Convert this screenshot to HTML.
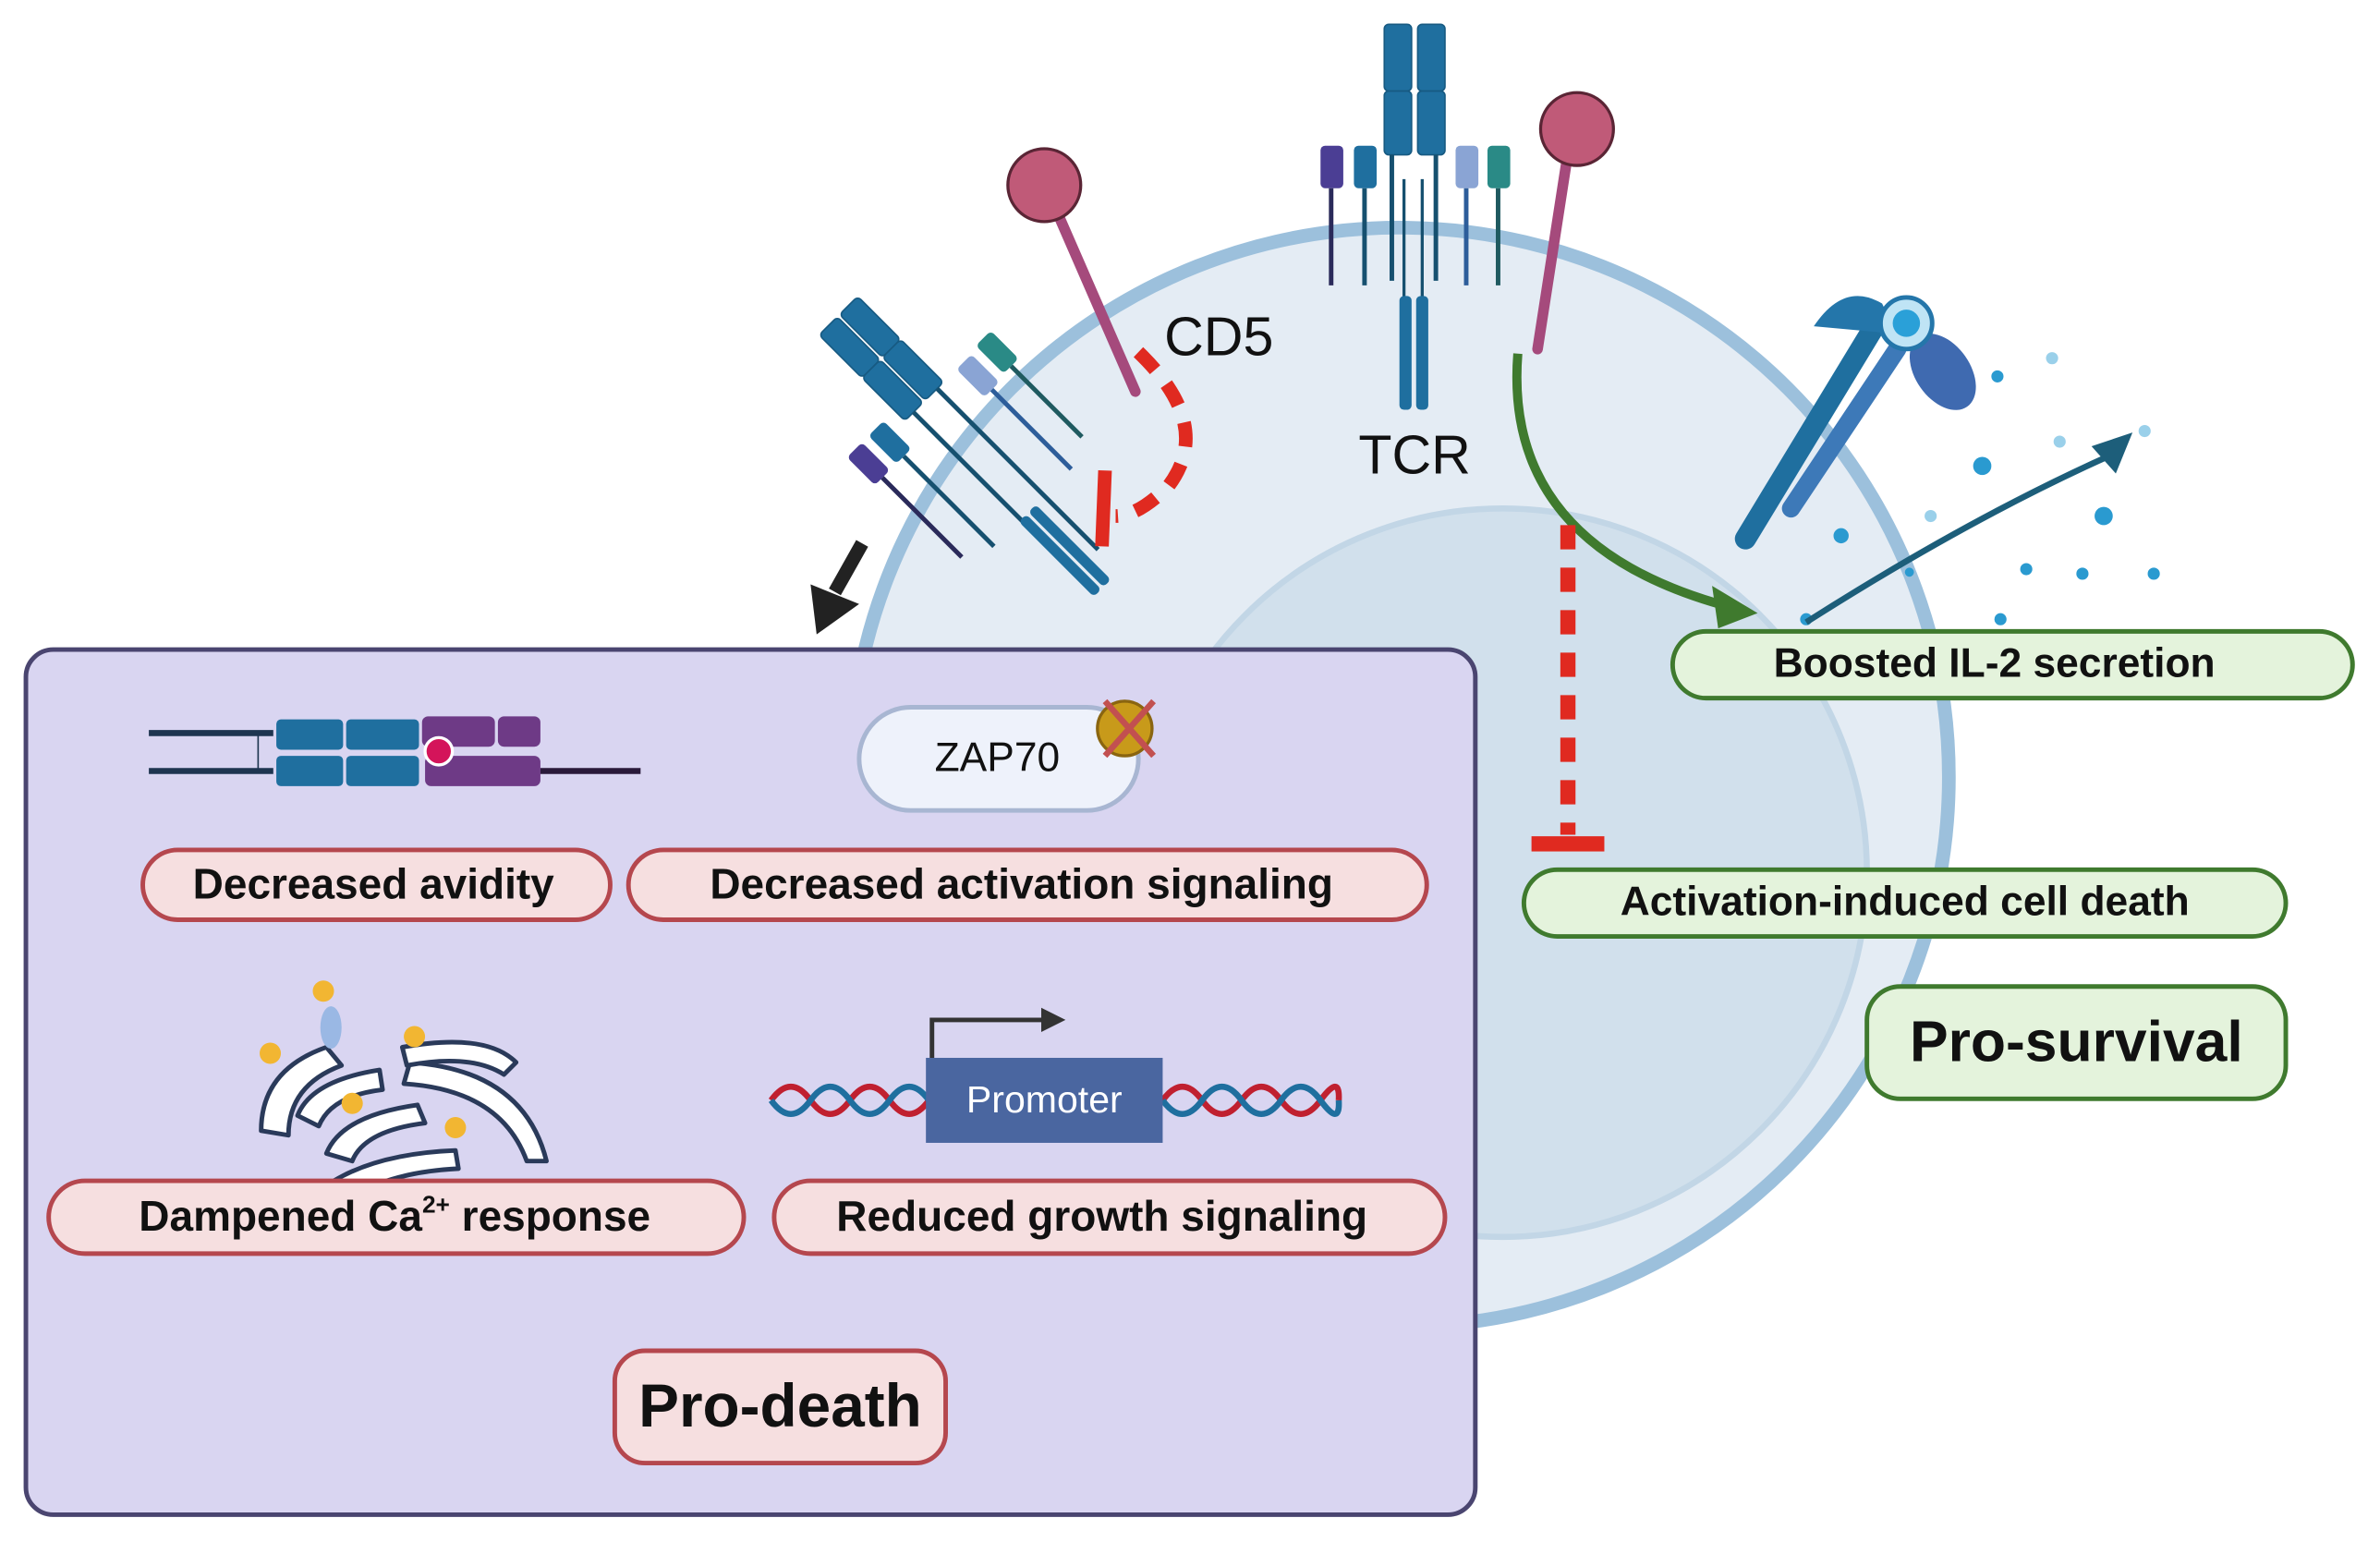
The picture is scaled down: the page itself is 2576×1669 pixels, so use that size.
<!DOCTYPE html>
<html><head><meta charset="utf-8"><style>
html,body{margin:0;padding:0;background:#fff;}
svg{display:block;}
text{font-family:"Liberation Sans",sans-serif;}
</style></head><body>
<svg width="2576" height="1669" viewBox="0 0 1568 1016" xmlns="http://www.w3.org/2000/svg">
<rect width="1568" height="1016" fill="#fff"/>
<!-- cell -->
<circle cx="922" cy="512" r="362" fill="#e4ecf4" stroke="#9cc0dc" stroke-width="9"/>
<circle cx="990" cy="575" r="240" fill="#d1e0ec" stroke="#c2d6e6" stroke-width="4"/>

<!-- TCR top -->
<g>
<rect x="912" y="16" width="18" height="44" rx="3" fill="#1f6f9f" stroke="#175a82"/>
<rect x="934" y="16" width="18" height="44" rx="3" fill="#1f6f9f" stroke="#175a82"/>
<rect x="912" y="60" width="18" height="42" rx="3" fill="#1f6f9f" stroke="#175a82"/>
<rect x="934" y="60" width="18" height="42" rx="3" fill="#1f6f9f" stroke="#175a82"/>
<line x1="917" y1="102" x2="917" y2="185" stroke="#16506f" stroke-width="3"/>
<line x1="946" y1="102" x2="946" y2="185" stroke="#16506f" stroke-width="3"/>
<line x1="925" y1="118" x2="925" y2="198" stroke="#16506f" stroke-width="2"/>
<line x1="937" y1="118" x2="937" y2="198" stroke="#16506f" stroke-width="2"/>
<rect x="922" y="195" width="8" height="75" rx="3" fill="#1f6f9f"/>
<rect x="933" y="195" width="8" height="75" rx="3" fill="#1f6f9f"/>
<rect x="870" y="96" width="15" height="28" rx="3" fill="#4b3e94"/>
<rect x="892" y="96" width="15" height="28" rx="3" fill="#1f6f9f"/>
<rect x="959" y="96" width="15" height="28" rx="3" fill="#8aa4d4"/>
<rect x="980" y="96" width="15" height="28" rx="3" fill="#2a8a86"/>
<line x1="877" y1="124" x2="877" y2="188" stroke="#2a2a5a" stroke-width="3"/>
<line x1="899" y1="124" x2="899" y2="188" stroke="#16506f" stroke-width="3"/>
<line x1="966" y1="124" x2="966" y2="188" stroke="#2d5d9a" stroke-width="3"/>
<line x1="987" y1="124" x2="987" y2="188" stroke="#1f5a60" stroke-width="3"/>
</g>
<text x="932" y="312" font-size="36" text-anchor="middle" fill="#111">TCR</text>
<text x="803" y="234" font-size="36" text-anchor="middle" fill="#111">CD5</text>

<!-- tilted TCR -->
<g transform="translate(640,290) rotate(45)">
<rect x="-120" y="-14" width="40" height="17" rx="3" fill="#1f6f9f" stroke="#175a82"/>
<rect x="-120" y="5" width="40" height="17" rx="3" fill="#1f6f9f" stroke="#175a82"/>
<rect x="-80" y="-14" width="40" height="17" rx="3" fill="#1f6f9f" stroke="#175a82"/>
<rect x="-80" y="5" width="40" height="17" rx="3" fill="#1f6f9f" stroke="#175a82"/>
<line x1="-40" y1="-8" x2="110" y2="-8" stroke="#16506f" stroke-width="3"/>
<line x1="-40" y1="14" x2="110" y2="14" stroke="#16506f" stroke-width="3"/>
<rect x="60" y="0" width="70" height="7" rx="3" fill="#1f6f9f"/>
<rect x="60" y="9" width="70" height="7" rx="3" fill="#1f6f9f"/>
<rect x="-40" y="-40" width="26" height="14" rx="3" fill="#8aa4d4"/>
<rect x="-42" y="-60" width="26" height="14" rx="3" fill="#2a8a86"/>
<line x1="-14" y1="-33" x2="60" y2="-33" stroke="#2d5d9a" stroke-width="3"/>
<line x1="-16" y1="-53" x2="50" y2="-53" stroke="#1f5a60" stroke-width="3"/>
<rect x="-50" y="32" width="26" height="14" rx="3" fill="#1f6f9f"/>
<rect x="-50" y="52" width="26" height="14" rx="3" fill="#4b3e94"/>
<line x1="-24" y1="39" x2="60" y2="39" stroke="#16506f" stroke-width="3"/>
<line x1="-24" y1="59" x2="50" y2="59" stroke="#2a2a5a" stroke-width="3"/>
</g>

<!-- CD5 lollipops -->
<line x1="690" y1="125" x2="748" y2="258" stroke="#a54a7c" stroke-width="7" stroke-linecap="round"/>
<circle cx="688" cy="122" r="24" fill="#c05a78" stroke="#5a2535" stroke-width="2"/>
<line x1="1035" y1="88" x2="1013" y2="230" stroke="#a54a7c" stroke-width="7" stroke-linecap="round"/>
<circle cx="1039" cy="85" r="24" fill="#c05a78" stroke="#5a2535" stroke-width="2"/>

<!-- red dashed inhibit (CD5) -->
<path d="M750 232 Q800 280 770 320 Q750 340 735 340" fill="none" stroke="#e02a20" stroke-width="9" stroke-dasharray="16,12"/>
<line x1="728" y1="310" x2="726" y2="360" stroke="#e02a20" stroke-width="9"/>

<!-- green arrow -->
<path d="M1000 233 Q990 360 1140 400" fill="none" stroke="#3f7a2e" stroke-width="6"/>
<polygon points="1158,404 1128,386 1132,414" fill="#3f7a2e"/>
<!-- red vertical inhibit -->
<line x1="1033" y1="346" x2="1033" y2="550" stroke="#e02a20" stroke-width="10" stroke-dasharray="16,12"/>
<rect x="1009" y="551" width="48" height="10" fill="#e02a20"/>

<!-- IL-2 receptor -->
<line x1="1235" y1="215" x2="1150" y2="355" stroke="#1f6f9f" stroke-width="14" stroke-linecap="round"/>
<line x1="1250" y1="230" x2="1180" y2="335" stroke="#3d79b8" stroke-width="12" stroke-linecap="round"/>
<path d="M1195 215 Q1215 185 1240 200 L1250 220 Z" fill="#2476aa"/>
<ellipse cx="1280" cy="245" rx="18" ry="28" transform="rotate(-35 1280 245)" fill="#3f6ab0"/>
<circle cx="1256" cy="213" r="17" fill="#bfe4f5" stroke="#2476aa" stroke-width="3"/>
<circle cx="1256" cy="213" r="9" fill="#2aa0d8"/>
<!-- dots -->
<g fill="#2a9ad0">
<circle cx="1316" cy="248" r="4"/><circle cx="1352" cy="236" r="4" fill="#9ad0ea"/><circle cx="1306" cy="307" r="6"/>
<circle cx="1357" cy="291" r="4" fill="#9ad0ea"/><circle cx="1413" cy="284" r="4" fill="#9ad0ea"/><circle cx="1386" cy="340" r="6"/>
<circle cx="1272" cy="340" r="4" fill="#9ad0ea"/><circle cx="1213" cy="353" r="5"/><circle cx="1335" cy="375" r="4"/>
<circle cx="1372" cy="378" r="4"/><circle cx="1419" cy="378" r="4"/><circle cx="1258" cy="377" r="3"/>
<circle cx="1190" cy="408" r="4"/><circle cx="1318" cy="408" r="4"/>
</g>
<path d="M1190 410 Q1300 340 1395 298" fill="none" stroke="#1d5e7a" stroke-width="4"/>
<polygon points="1405,285 1378,294 1394,312" fill="#1d5e7a"/>

<!-- black arrow -->
<line x1="568" y1="358" x2="550" y2="390" stroke="#222" stroke-width="9"/>
<polygon points="538,418 534,385 566,398" fill="#222"/>

<!-- green labels -->
<rect x="1102" y="416" width="448" height="44" rx="22" fill="#e4f3dc" stroke="#3f7a2e" stroke-width="3"/>
<text x="1314" y="446" font-size="27" font-weight="bold" text-anchor="middle" fill="#111">Boosted IL-2 secretion</text>
<rect x="1004" y="573" width="502" height="44" rx="22" fill="#e4f3dc" stroke="#3f7a2e" stroke-width="3"/>
<text x="1255" y="603" font-size="27" font-weight="bold" text-anchor="middle" fill="#111">Activation-induced cell death</text>
<rect x="1230" y="650" width="276" height="74" rx="22" fill="#e4f3dc" stroke="#3f7a2e" stroke-width="3"/>
<text x="1368" y="699" font-size="38" font-weight="bold" text-anchor="middle" fill="#111">Pro-survival</text>

<!-- purple box -->
<rect x="17" y="428" width="955" height="570" rx="18" fill="#d9d5f1" stroke="#4a4570" stroke-width="3"/>

<!-- avidity icon -->
<line x1="98" y1="483" x2="180" y2="483" stroke="#1e3550" stroke-width="4"/>
<line x1="98" y1="508" x2="180" y2="508" stroke="#1e3550" stroke-width="4"/>
<line x1="170" y1="483" x2="170" y2="508" stroke="#1e3550" stroke-width="1"/>
<rect x="182" y="474" width="44" height="20" rx="3" fill="#1f6f9f"/>
<rect x="228" y="474" width="48" height="20" rx="3" fill="#1f6f9f"/>
<rect x="182" y="498" width="44" height="20" rx="3" fill="#1f6f9f"/>
<rect x="228" y="498" width="48" height="20" rx="3" fill="#1f6f9f"/>
<rect x="278" y="472" width="48" height="20" rx="4" fill="#6e3a86"/>
<rect x="328" y="472" width="28" height="20" rx="4" fill="#6e3a86"/>
<rect x="280" y="498" width="76" height="20" rx="4" fill="#6e3a86"/>
<line x1="356" y1="508" x2="422" y2="508" stroke="#2a1a3a" stroke-width="4"/>
<circle cx="289" cy="495" r="9" fill="#d4145a" stroke="#fff" stroke-width="2"/>

<!-- ZAP70 -->
<rect x="566" y="466" width="184" height="68" rx="34" fill="#eef2fb" stroke="#a8b6d2" stroke-width="3"/>
<text x="657" y="508" font-size="27" text-anchor="middle" fill="#111">ZAP70</text>
<circle cx="741" cy="480" r="18" fill="#c89a1a" stroke="#8a6510" stroke-width="2"/>
<line x1="728" y1="462" x2="760" y2="498" stroke="#c25050" stroke-width="4"/>
<line x1="760" y1="462" x2="728" y2="498" stroke="#c25050" stroke-width="4"/>

<!-- ER icon -->
<g fill="#fff" stroke="#2a3a5a" stroke-width="3" stroke-linejoin="round">
<path d="M172 745 Q172 705 215 690 L225 702 Q190 715 190 748 Z"/>
<path d="M196 735 Q205 712 250 705 L252 718 Q218 722 210 742 Z"/>
<path d="M215 760 Q225 735 275 728 L280 740 Q240 745 232 765 Z"/>
<path d="M220 778 Q250 760 300 758 L302 770 Q260 772 232 788 Z"/>
<path d="M270 700 Q345 705 360 765 L347 765 Q330 718 266 714 Z"/>
<path d="M265 690 Q320 680 340 700 L332 708 Q310 694 268 702 Z"/>
</g>
<ellipse cx="218" cy="677" rx="7" ry="14" fill="#9ab8e4"/>
<g fill="#f2b632"><circle cx="213" cy="653" r="7"/><circle cx="178" cy="694" r="7"/><circle cx="273" cy="683" r="7"/><circle cx="232" cy="727" r="7"/><circle cx="300" cy="743" r="7"/></g>

<!-- DNA / promoter -->
<path d="M508 725 q13 -18 26 0 t26 0 t26 0 t26 0" fill="none" stroke="#c02030" stroke-width="4"/>
<path d="M508 725 q13 18 26 0 t26 0 t26 0 t26 0" fill="none" stroke="#1f6f9f" stroke-width="4"/>
<path d="M766 725 q13 -18 26 0 t26 0 t26 0 t26 0 t12 0" fill="none" stroke="#c02030" stroke-width="4"/>
<path d="M766 725 q13 18 26 0 t26 0 t26 0 t26 0 t12 0" fill="none" stroke="#1f6f9f" stroke-width="4"/>
<rect x="610" y="697" width="156" height="56" fill="#4a66a0"/>
<text x="688" y="733" font-size="25" text-anchor="middle" fill="#fff">Promoter</text>
<path d="M614 697 V672 H690" fill="none" stroke="#333" stroke-width="3"/>
<polygon points="702,672 686,664 686,680" fill="#333"/>

<!-- pink labels -->
<g fill="#f6dfe0" stroke="#b5474e" stroke-width="3">
<rect x="94" y="560" width="308" height="46" rx="23"/>
<rect x="414" y="560" width="526" height="46" rx="23"/>
<rect x="32" y="778" width="458" height="48" rx="24"/>
<rect x="510" y="778" width="442" height="48" rx="24"/>
<rect x="405" y="890" width="218" height="74" rx="20"/>
</g>
<g font-weight="bold" fill="#111" text-anchor="middle" font-size="28">
<text x="246" y="592">Decreased avidity</text>
<text x="673" y="592">Decreased activation signaling</text>
<text x="260" y="811">Dampened Ca<tspan font-size="16" dy="-12">2+</tspan><tspan dy="12"> response</tspan></text>
<text x="726" y="811">Reduced growth signaling</text>
<text x="514" y="940" font-size="40">Pro-death</text>
</g>
</svg>
</body></html>
